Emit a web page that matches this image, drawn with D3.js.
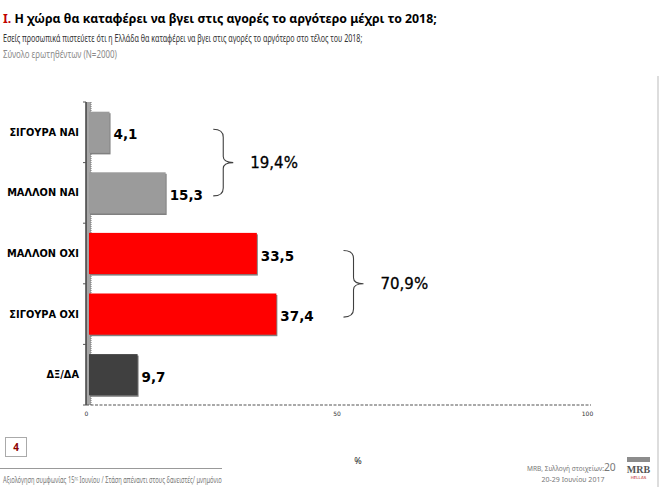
<!DOCTYPE html>
<html>
<head>
<meta charset="utf-8">
<script src="https://cdn.jsdelivr.net/npm/d3@7"></script>
<style>
  body { margin: 0; background: #fff; }
  svg { display: block; }
</style>
</head>
<body>
<script>
// data
const categories = ["ΣΙΓΟΥΡΑ ΝΑΙ", "ΜΑΛΛΟΝ ΝΑΙ", "ΜΑΛΛΟΝ ΟΧΙ", "ΣΙΓΟΥΡΑ ΟΧΙ", "ΔΞ/ΔΑ"];
const values = [4.1, 15.3, 33.5, 37.4, 9.7];
const valueLabels = ["4,1", "15,3", "33,5", "37,4", "9,7"];
const barColors = ["#9b9b9b", "#9b9b9b", "#ff0000", "#ff0000", "#404040"];
const xTicks = [0, 50, 100];
const groups = [
    { from: "ΣΙΓΟΥΡΑ ΝΑΙ", to: "ΜΑΛΛΟΝ ΝΑΙ", label: "19,4%", at: 25 },
    { from: "ΜΑΛΛΟΝ ΟΧΙ", to: "ΣΙΓΟΥΡΑ ΟΧΙ", label: "70,9%", at: 51 }
];

const w = 660, h = 487;
const svg = d3.select("body").append("svg")
    .attr("width", w)
    .attr("height", h);

// shrink or grow a text's font so it spans the given width
function fit(sel, width) {
    const size = +sel.attr("font-size");
    const len = sel.node().getComputedTextLength();
    sel.attr("font-size", (size * width / len).toFixed(2));
}

// squeeze a text sideways (the slide uses a narrow font)
function squeeze(sel, x, width) {
    const len = sel.node().getComputedTextLength();
    sel.attr("x", 0)
        .attr("transform", "translate(" + x + ",0) scale(" + (width / len).toFixed(3) + ",1)");
}

// header
const title = svg.append("text")
    .attr("x", 3).attr("y", 23)
    .attr("font-family", "Noto Sans")
    .attr("font-weight", "bold")
    .attr("font-size", 16);
title.append("tspan").attr("fill", "#c00000").text("Ι.");
title.append("tspan").attr("fill", "#000").text(" Η χώρα θα καταφέρει να βγει στις αγορές το αργότερο μέχρι το 2018;");
fit(title, 434);

const sub = svg.append("text")
    .attr("y", 42)
    .attr("font-family", "Noto Sans")
    .attr("font-size", 10)
    .attr("fill", "#333")
    .text("Εσείς προσωπικά πιστεύετε ότι η Ελλάδα θα καταφέρει να βγει στις αγορές το αργότερο στο τέλος του 2018;");
squeeze(sub, 3, 360);

const base = svg.append("text")
    .attr("y", 58)
    .attr("font-family", "Noto Sans")
    .attr("font-size", 10)
    .attr("fill", "#8a8a8a")
    .text("Σύνολο ερωτηθέντων (N=2000)");
squeeze(base, 3, 114);

// slide border on the right
svg.append("line")
    .attr("x1", 658).attr("x2", 658)
    .attr("y1", 76).attr("y2", h)
    .attr("stroke", "#dddddd").attr("stroke-width", 2);

// scales
const xScale = d3.scaleLinear()
    .domain([0, 100])
    .range([88, 589]);

const yScale = d3.scaleBand()
    .domain(categories)
    .range([102, 405])
    .paddingInner(0.32)
    .paddingOuter(0.16);

const yStep = d3.scaleBand().domain(categories).range([102, 405]);

// y axis wall
svg.append("rect")
    .attr("x", xScale(0) - 2).attr("y", 102)
    .attr("width", 5).attr("height", 405 - 102)
    .attr("fill", "#a6a6a6");
svg.append("line")
    .attr("x1", xScale(0) - 2).attr("x2", xScale(0) - 2)
    .attr("y1", 102).attr("y2", 405)
    .attr("stroke", "#404040").attr("stroke-width", 1.5);
svg.append("line")
    .attr("x1", xScale(0) + 3).attr("x2", xScale(0) + 3)
    .attr("y1", 102).attr("y2", 405)
    .attr("stroke", "#777").attr("stroke-width", 1)
    .attr("stroke-dasharray", "1,1");

// ticks between categories
svg.selectAll(".ytick")
    .data(categories.concat(["end"]))
    .enter()
    .append("line")
    .attr("class", "ytick")
    .attr("x1", xScale(0) - 5).attr("x2", xScale(0) - 2)
    .attr("y1", function (d, i) { return 102 + i * yStep.step(); })
    .attr("y2", function (d, i) { return 102 + i * yStep.step(); })
    .attr("stroke", "#555").attr("stroke-width", 1);

// x axis
svg.append("line")
    .attr("x1", xScale(0) - 2).attr("x2", xScale(100) + 2)
    .attr("y1", 405).attr("y2", 405)
    .attr("stroke", "#555").attr("stroke-width", 1.2)
    .attr("stroke-dasharray", "3,1.5");

const xAxis = svg.append("g")
    .attr("transform", "translate(-2," + 409 + ")")
    .call(d3.axisBottom(xScale).tickValues(xTicks).tickSize(0).tickPadding(3));
xAxis.select(".domain").remove();
xAxis.selectAll("text")
    .attr("font-family", "DejaVu Sans")
    .attr("font-size", 6)
    .attr("fill", "#333");

// bar edges (the slide's dotted shadow)
svg.selectAll(".shadow")
    .data(values)
    .enter()
    .append("rect")
    .attr("class", "shadow")
    .attr("x", xScale(0) + 2)
    .attr("y", function (d, i) { return yScale(categories[i]) + 1.5; })
    .attr("width", function (d) { return xScale(d) - xScale(0); })
    .attr("height", yScale.bandwidth())
    .attr("fill", "#808080");

// bars
svg.selectAll(".bar")
    .data(values)
    .enter()
    .append("rect")
    .attr("class", "bar")
    .attr("x", xScale(0) + 1)
    .attr("y", function (d, i) { return yScale(categories[i]); })
    .attr("width", function (d) { return xScale(d) - xScale(0); })
    .attr("height", yScale.bandwidth())
    .attr("fill", function (d, i) { return barColors[i]; });

// category labels
svg.selectAll(".cat")
    .data(categories)
    .enter()
    .append("text")
    .attr("class", "cat")
    .attr("x", 79)
    .attr("y", function (d) { return yScale(d) + yScale.bandwidth() / 2 + 3.5; })
    .attr("text-anchor", "end")
    .attr("font-family", "DejaVu Sans")
    .attr("font-weight", "bold")
    .attr("font-size", 9.8)
    .attr("fill", "#000")
    .text(function (d) { return d; });

// value labels
svg.selectAll(".val")
    .data(values)
    .enter()
    .append("text")
    .attr("class", "val")
    .attr("x", function (d) { return xScale(d) + 5; })
    .attr("y", function (d, i) { return yScale(categories[i]) + yScale.bandwidth() / 2 + 7; })
    .attr("font-family", "DejaVu Sans")
    .attr("font-weight", "bold")
    .attr("font-size", 13.5)
    .attr("fill", "#000")
    .text(function (d, i) { return valueLabels[i]; });

// braces for groups
groups.forEach(function (g) {
    const y0 = yScale(g.from) + yScale.bandwidth() / 2 - 3;
    const y1 = yScale(g.to) + yScale.bandwidth() / 2 + 3;
    const ym = (y0 + y1) / 2;
    const x0 = xScale(g.at);
    const xb = x0 + 10;
    const xt = x0 + 20;
    const path = d3.path();
    path.moveTo(x0, y0);
    path.quadraticCurveTo(xb, y0, xb, y0 + 8);
    path.lineTo(xb, ym - 6);
    path.quadraticCurveTo(xb, ym, xt, ym);
    path.quadraticCurveTo(xb, ym, xb, ym + 6);
    path.lineTo(xb, y1 - 8);
    path.quadraticCurveTo(xb, y1, x0, y1);
    svg.append("path")
        .attr("d", path.toString())
        .attr("fill", "none")
        .attr("stroke", "#404040")
        .attr("stroke-width", 1.1);
    svg.append("text")
        .attr("x", xt + 17)
        .attr("y", ym + 5)
        .attr("font-family", "DejaVu Sans")
        .attr("font-size", 15)
        .attr("stroke", "#000")
        .attr("stroke-width", 0.3)
        .attr("fill", "#000")
        .text(g.label);
});

// footer
svg.append("rect")
    .attr("x", 5.5).attr("y", 437.5)
    .attr("width", 21).attr("height", 19)
    .attr("fill", "#fff").attr("stroke", "#aaa");
svg.append("text")
    .attr("x", 16).attr("y", 451)
    .attr("text-anchor", "middle")
    .attr("font-family", "Noto Sans")
    .attr("font-weight", "bold")
    .attr("font-size", 10)
    .attr("fill", "#8b0000")
    .text("4");

svg.append("text")
    .attr("x", 358).attr("y", 464)
    .attr("text-anchor", "middle")
    .attr("font-family", "Noto Sans")
    .attr("font-size", 9)
    .attr("fill", "#222")
    .text("%");

svg.append("line")
    .attr("x1", 0).attr("x2", 222)
    .attr("y1", 468.5).attr("y2", 468.5)
    .attr("stroke", "#999").attr("stroke-width", 1);

const foot = svg.append("text")
    .attr("y", 483)
    .attr("font-family", "Noto Sans")
    .attr("font-size", 8)
    .attr("fill", "#777");
foot.append("tspan").text("Αξιολόγηση συμφωνίας 15");
foot.append("tspan").attr("font-size", 4.5).attr("dy", -3).text("ης");
foot.append("tspan").attr("dy", 3).text(" Ιουνίου / Στάση απέναντι στους δανειστές/ μνημόνιο");
squeeze(foot, 3, 219);

const src = svg.append("text")
    .attr("x", 527).attr("y", 471)
    .attr("font-family", "Noto Sans")
    .attr("font-size", 7)
    .attr("fill", "#777");
src.append("tspan").text("MRB, Συλλογή στοιχείων:");
src.append("tspan").attr("font-size", 11).text("20");
squeeze(src, 527, 89);

svg.append("text")
    .attr("x", 573).attr("y", 482)
    .attr("text-anchor", "middle")
    .attr("font-family", "Noto Sans")
    .attr("font-size", 7)
    .attr("fill", "#777")
    .text("20-29 Ιουνίου 2017");

// logo
svg.append("rect")
    .attr("x", 627).attr("y", 457)
    .attr("width", 23).attr("height", 5)
    .attr("fill", "#8c8c8c");
svg.append("text")
    .attr("x", 638.5).attr("y", 473)
    .attr("text-anchor", "middle")
    .attr("font-family", "Liberation Serif")
    .attr("font-weight", "bold")
    .attr("font-size", 10)
    .attr("fill", "#555")
    .text("MRB");
svg.append("text")
    .attr("x", 638.5).attr("y", 479)
    .attr("text-anchor", "middle")
    .attr("font-family", "DejaVu Sans")
    .attr("font-size", 4)
    .attr("fill", "#b22")
    .text("HELLAS");
</script>
</body>
</html>
